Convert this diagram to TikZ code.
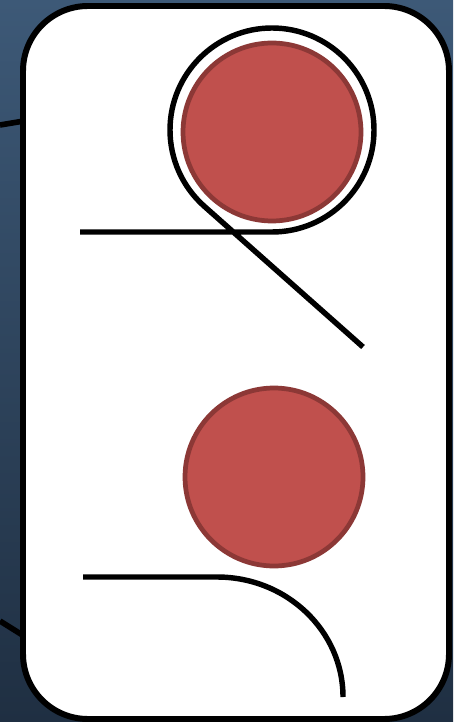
\documentclass[tikz,border=0pt]{standalone}
\usepackage{xcolor}
\usepackage{tikz}
\usetikzlibrary{positioning,calc}
\definecolor{bgTop}{HTML}{3D5977}
\definecolor{bgBot}{HTML}{1F2F42}
\definecolor{ballFill}{HTML}{C0504D}
\definecolor{ballEdge}{HTML}{8C3836}
\tikzset{
  card/.style={draw=black, line width=3.4pt, fill=white, rounded corners=1.3cm},
  ball/.style={circle, draw=ballEdge, line width=2.7pt, fill=ballFill, inner sep=0pt, minimum size=3.56cm},
  rope/.style={draw=black, line width=3.1pt},
  link/.style={draw=black, line width=3.2pt},
}

\begin{document}
\begin{tikzpicture}[x=0.02cm, y=-0.02cm]
  \useasboundingbox (0,0) rectangle (453,722);
  \fill[top color=bgTop, bottom color=bgBot] (0,0) rectangle (453,722);
  % links leaving the card
  \coordinate (in1) at (0,125);
  \coordinate (in2) at (0,621);
  \coordinate (k1) at (24,121);
  \coordinate (k2) at (24,636);
  \draw[link] (in1) -- (k1);
  \draw[link] (in2) -- (k2);
  % card
  \path[card] (23,6) rectangle (449,719);
  % upper: rope looped round the ball
  \node[ball] (b1) at (272,132) {};
  \coordinate (r1) at (80,232);
  \coordinate (r2) at (272,232);
  \coordinate (r3) at (363,347);
  \draw[rope] (r1) -- (r2) arc[start angle=90, end angle=-228.5, radius=102] -- (r3);
  % lower: rope bent under the ball
  \node[ball] (b2) at (274,477) {};
  \coordinate (s1) at (83,577);
  \coordinate (s2) at (217,577);
  \draw[rope] (s1) -- (s2) arc[start angle=-90, end angle=0, x radius=126, y radius=120];
\end{tikzpicture}
\end{document}
